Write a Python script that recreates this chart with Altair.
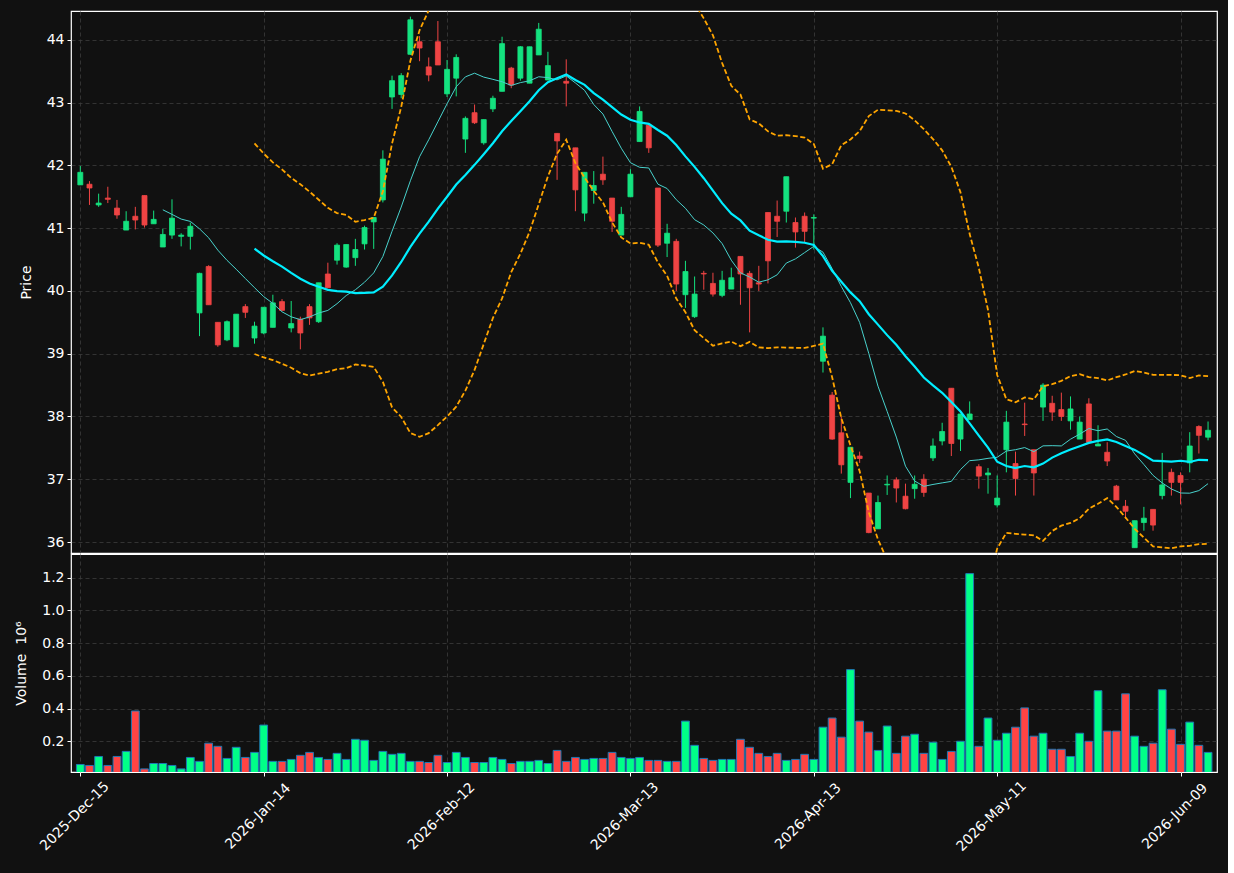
import altair as alt
import pandas as pd

# ---- data (index 0 = 2025-Dec-15, NYSE trading days) ----
opens = [41.69, 41.70, 41.37, 41.48, 41.32, 40.97, 41.19, 41.52, 41.07, 40.70,
         40.89, 40.87, 40.87, 39.65, 40.39, 39.50, 39.22, 39.11, 39.75, 39.25,
         39.33, 39.42, 39.83, 39.41, 39.55, 39.75, 39.51, 40.27, 40.49, 40.38,
         40.53, 40.75, 41.10, 41.45, 43.09, 43.13, 43.77, 43.97, 43.57, 43.97,
         43.14, 43.39, 42.42, 42.84, 42.36, 42.90, 43.18, 43.55, 43.39, 43.31,
         43.76, 43.36, 42.51, 43.34, 42.28, 41.24, 41.60, 41.86, 41.48, 40.89,
         41.50, 42.38, 42.64, 41.64, 40.76, 40.79, 39.94, 39.59, 40.28, 40.12,
         39.93, 40.03, 40.55, 40.28, 40.13, 41.25, 41.19, 41.27, 41.09, 41.19,
         41.16, 38.88, 38.34, 37.74, 36.95, 37.37, 36.78, 36.21, 36.91, 36.99,
         36.73, 36.85, 37.00, 37.34, 37.61, 38.45, 37.64, 37.95, 37.20, 37.07,
         36.59, 37.47, 37.25, 37.88, 37.47, 38.15, 38.21, 38.11, 37.93, 37.64,
         38.20, 37.53, 37.43, 36.89, 36.57, 35.91, 36.31, 36.52, 36.74, 37.11,
         37.06, 37.26, 37.84, 37.67]
highs = [41.99, 41.75, 41.55, 41.66, 41.45, 41.27, 41.34, 41.52, 41.28, 40.99,
         41.46, 40.92, 41.09, 40.29, 40.41, 39.50, 39.53, 39.63, 39.79, 39.51,
         39.74, 39.94, 39.87, 39.84, 39.59, 39.79, 40.13, 40.45, 40.76, 40.74,
         40.83, 41.04, 41.17, 42.24, 43.43, 43.47, 44.37, 44.06, 43.72, 44.30,
         43.68, 43.77, 42.78, 42.97, 42.73, 43.11, 44.05, 43.57, 43.90, 43.89,
         44.27, 43.81, 42.51, 43.69, 42.28, 41.89, 41.91, 42.14, 41.48, 41.34,
         41.94, 42.94, 42.64, 41.64, 41.07, 40.83, 40.48, 40.23, 40.32, 40.29,
         40.32, 40.37, 40.55, 40.32, 40.40, 41.25, 41.44, 41.82, 41.17, 41.25,
         41.22, 39.42, 38.39, 38.00, 37.51, 37.44, 36.78, 36.74, 37.06, 37.03,
         36.93, 37.06, 37.08, 37.65, 37.90, 38.45, 38.04, 38.24, 37.24, 37.18,
         37.06, 38.09, 37.44, 38.22, 37.47, 38.53, 38.33, 38.38, 38.32, 38.00,
         38.29, 37.86, 37.59, 36.91, 36.67, 36.34, 36.56, 36.52, 37.42, 37.17,
         37.11, 37.75, 37.86, 37.92]
lows = [41.69, 41.37, 41.34, 41.40, 41.15, 40.97, 40.98, 41.01, 41.07, 40.70,
        40.83, 40.71, 40.66, 39.28, 39.78, 39.11, 39.20, 39.11, 39.57, 39.16,
        39.31, 39.42, 39.69, 39.34, 39.07, 39.46, 39.49, 40.05, 40.42, 40.37,
        40.40, 40.66, 40.67, 41.41, 42.90, 43.07, 43.76, 43.66, 43.34, 43.60,
        43.09, 43.10, 42.20, 42.66, 42.33, 42.85, 43.18, 43.23, 43.35, 43.31,
        43.76, 43.36, 41.77, 42.94, 41.27, 41.11, 41.39, 41.69, 40.94, 40.89,
        41.50, 42.38, 42.20, 40.70, 40.54, 40.00, 39.73, 39.57, 40.02, 39.91,
        39.90, 40.03, 39.78, 39.34, 40.00, 40.12, 40.86, 41.09, 40.69, 40.78,
        40.66, 38.70, 37.63, 37.09, 36.70, 37.26, 36.14, 36.21, 36.75, 36.63,
        36.52, 36.69, 36.72, 37.29, 37.54, 37.37, 37.45, 37.95, 36.85, 36.77,
        36.55, 37.11, 36.74, 37.69, 36.74, 37.93, 37.93, 37.93, 37.79, 37.64,
        37.59, 37.53, 37.21, 36.67, 36.37, 35.91, 36.18, 36.18, 36.68, 36.74,
        36.60, 37.11, 37.41, 37.62]
closes = [41.89, 41.64, 41.40, 41.46, 41.21, 41.11, 41.13, 41.05, 41.14, 40.90,
          41.16, 40.89, 41.03, 40.28, 39.78, 39.14, 39.51, 39.63, 39.66, 39.44,
          39.74, 39.81, 39.69, 39.48, 39.33, 39.57, 40.13, 40.05, 40.73, 40.74,
          40.66, 41.01, 41.17, 42.10, 43.35, 43.43, 44.32, 43.87, 43.44, 43.60,
          43.53, 43.72, 42.75, 42.68, 42.73, 43.07, 43.94, 43.28, 43.89, 43.89,
          44.17, 43.59, 42.39, 43.31, 41.61, 41.89, 41.68, 41.77, 41.11, 41.22,
          41.86, 42.86, 42.28, 40.73, 40.92, 40.11, 40.31, 39.95, 40.27, 39.95,
          40.17, 40.21, 40.27, 40.05, 40.11, 40.48, 41.11, 41.82, 40.94, 40.95,
          41.17, 39.28, 37.64, 37.23, 37.51, 37.33, 36.15, 36.63, 36.92, 36.86,
          36.53, 36.92, 36.79, 37.53, 37.76, 37.57, 38.04, 38.04, 37.05, 37.10,
          36.70, 37.91, 37.01, 37.87, 37.10, 38.50, 38.07, 38.00, 38.12, 37.91,
          37.59, 37.56, 37.29, 36.67, 36.49, 36.34, 36.38, 36.27, 36.91, 36.95,
          36.95, 37.53, 37.70, 37.78]
volumes = [0.058, 0.052, 0.107, 0.052, 0.107, 0.138, 0.385, 0.031, 0.064, 0.064,
           0.052, 0.031, 0.101, 0.077, 0.188, 0.169, 0.095, 0.163, 0.101, 0.132,
           0.299, 0.077, 0.077, 0.089, 0.114, 0.132, 0.101, 0.089, 0.126, 0.089,
           0.212, 0.206, 0.083, 0.138, 0.120, 0.126, 0.077, 0.077, 0.070, 0.114,
           0.070, 0.132, 0.101, 0.070, 0.070, 0.101, 0.089, 0.064, 0.077, 0.077,
           0.083, 0.064, 0.144, 0.077, 0.101, 0.089, 0.095, 0.095, 0.132, 0.101,
           0.095, 0.101, 0.083, 0.083, 0.077, 0.077, 0.323, 0.175, 0.095, 0.083,
           0.089, 0.089, 0.212, 0.163, 0.126, 0.107, 0.126, 0.083, 0.089, 0.120,
           0.089, 0.286, 0.342, 0.225, 0.638, 0.323, 0.256, 0.144, 0.293, 0.126,
           0.231, 0.243, 0.126, 0.194, 0.089, 0.138, 0.200, 1.225, 0.169, 0.342,
           0.206, 0.249, 0.286, 0.404, 0.231, 0.249, 0.151, 0.151, 0.107, 0.249,
           0.200, 0.509, 0.262, 0.262, 0.490, 0.231, 0.169, 0.188, 0.515, 0.274,
           0.181, 0.317, 0.175, 0.132]
tick_index = [0, 20, 40, 60, 80, 100, 120]
tick_labels = ["2025-Dec-15", "2026-Jan-14", "2026-Feb-12", "2026-Mar-13",
               "2026-Apr-13", "2026-May-11", "2026-Jun-09"]
price_ticks = [36, 37, 38, 39, 40, 41, 42, 43, 44]
volume_ticks = [0.2, 0.4, 0.6, 0.8, 1.0, 1.2]

df = pd.DataFrame({"i": list(range(len(opens))), "open": opens, "high": highs,
                   "low": lows, "close": closes, "volume": volumes})

BG = "#111111"
UP_C, DN_C = "#14e27f", "#ef4444"
UP_V, DN_V = "#00ff88", "#ff4444"
WHITE = "#ffffff"
GRID = "#3c3c3c"

xscale = alt.Scale(domain=[-0.47, 123.43], nice=False, zero=False)
label_expr = "[" + ",".join("'%s'" % t for t in tick_labels) + "][round(datum.value / 20)]"

x_price = alt.X("i:Q", scale=xscale,
                axis=alt.Axis(values=tick_index, labels=False, ticks=False, domain=False,
                              grid=True, title=None, minExtent=0, maxExtent=0, offset=0))
x_vol = alt.X("i:Q", scale=xscale,
              axis=alt.Axis(values=tick_index, labelExpr=label_expr, labelAngle=315,
                            labelAlign="center", labelBaseline="middle", labelPadding=40,
                            labelOffset=-6,
                            ticks=True, tickSize=4, domain=False, grid=True, title=None,
                            labelFlush=False, labelOverlap=False, labelBound=False))
yscale_p = alt.Scale(domain=[35.825, 44.46], nice=False, zero=False)
y_axis_p = alt.Axis(values=price_ticks, format="d", title="Price", titlePadding=13,
                    tickSize=4, grid=True, domain=False)

up_cond = "datum.close >= datum.open"
base = alt.Chart(df)

wicks = base.mark_rule(strokeWidth=1, clip=True).encode(
    x=x_price,
    y=alt.Y("low:Q", scale=yscale_p, axis=y_axis_p),
    y2="high:Q",
    color=alt.condition(up_cond, alt.value(UP_C), alt.value(DN_C)),
)
bodies = base.mark_bar(size=5, strokeWidth=0.8, clip=True).encode(
    x=x_price,
    y=alt.Y("open:Q", scale=yscale_p),
    y2="close:Q",
    color=alt.condition(up_cond, alt.value(UP_C), alt.value(DN_C)),
    stroke=alt.condition(up_cond, alt.value(UP_C), alt.value(DN_C)),
)

ma10 = base.transform_window(
    ma10="mean(close)", n10="count()", frame=[-9, 0], sort=[alt.SortField("i")]
).transform_filter("datum.n10 >= 10").mark_line(
    color="#48d1cc", strokeWidth=1, clip=True
).encode(x=x_price, y=alt.Y("ma10:Q", scale=yscale_p))

bb = base.transform_window(
    ma20="mean(close)", sd20="stdev(close)", n20="count()", frame=[-19, 0],
    sort=[alt.SortField("i")]
).transform_filter("datum.n20 >= 20").transform_calculate(
    upper="datum.ma20 + 2 * datum.sd20", lower="datum.ma20 - 2 * datum.sd20"
)
ma20 = bb.mark_line(color="#00eeff", strokeWidth=2.2, clip=True).encode(
    x=x_price, y=alt.Y("ma20:Q", scale=yscale_p))
upper = bb.mark_line(color="#ffa500", strokeWidth=1.8, strokeDash=[5, 2.5], clip=True).encode(
    x=x_price, y=alt.Y("upper:Q", scale=yscale_p))
lower = bb.mark_line(color="#ffa500", strokeWidth=1.8, strokeDash=[5, 2.5], clip=True).encode(
    x=x_price, y=alt.Y("lower:Q", scale=yscale_p))

price = alt.layer(wicks, bodies, ma10, ma20, upper, lower).properties(width=1146, height=542)

volume = base.mark_bar(size=7.8, stroke="#1f77b4", strokeWidth=1, clip=True).encode(
    x=x_vol,
    y=alt.Y("volume:Q", scale=alt.Scale(domain=[0.012, 1.345], nice=False, zero=False),
            axis=alt.Axis(values=volume_ticks, format=".1f", title="Volume\u00a0 10\u2076",
                          titlePadding=13, tickSize=4, grid=True, domain=False)),
    y2=alt.datum(0),
    color=alt.condition(up_cond, alt.value(UP_V), alt.value(DN_V)),
).properties(width=1146, height=218)

chart = alt.vconcat(price, volume, spacing=-3).properties(
    background=BG,
    padding={"left": 14, "top": 10, "right": 10, "bottom": 18},
).configure_view(
    stroke=WHITE, strokeWidth=1.2, fill=BG
).configure_axis(
    labelColor=WHITE, labelFont="DejaVu Sans", labelFontSize=14,
    titleColor=WHITE, titleFont="DejaVu Sans", titleFontSize=14, titleFontWeight="normal",
    tickColor=WHITE, tickWidth=1, gridColor=GRID, gridDash=[4, 3], gridWidth=0.8,
    labelPadding=3,
)

chart.save("out.html", embed_options={"renderer": "svg", "actions": False})
